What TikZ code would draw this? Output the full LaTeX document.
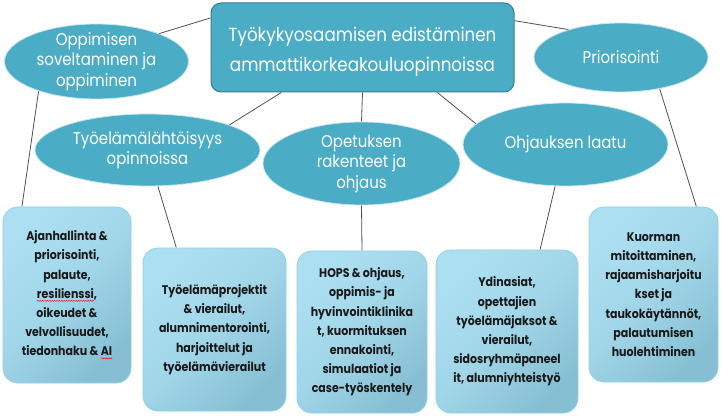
\documentclass[tikz,border=0pt]{standalone}
\usepackage{fontspec}
\setmainfont{Poppins}[FakeStretch=0.88]
\usetikzlibrary{shapes.geometric,backgrounds,decorations.pathmorphing}
\definecolor{aqua}{HTML}{4BACC6}
\definecolor{aquadark}{HTML}{357E93}
\definecolor{boxA}{HTML}{ACDFF1}
\definecolor{boxB}{HTML}{86BFD3}
\definecolor{boxline}{HTML}{8FD2E8}
\definecolor{linkc}{HTML}{505050}
\newsavebox\spellbox
\newcommand\spellmark[1]{\sbox\spellbox{#1}\leavevmode\rlap{\tikz[x=1pt,y=1pt,baseline=0pt]
  \draw[sharp corners,red,line width=0.45pt,decorate,decoration={snake,amplitude=0.5pt,segment length=2.4pt}]
  (0,-2.5) -- (\wd\spellbox,-2.5);}\usebox\spellbox}
\tikzset{
  central/.style={rectangle, rounded corners=10pt, fill=aqua, draw=aquadark, line width=1pt,
    minimum width=303pt, minimum height=89pt, inner sep=0pt},
  ctext/.style={text=white, align=center, font=\fontsize{19}{30}\selectfont},
  ell/.style={ellipse, fill=aqua, draw=white!70!aqua, line width=0.8pt, inner sep=0pt},
  etext/.style={text=white, align=center, font=\fontsize{17}{20.5}\selectfont},
  bx/.style={rectangle, rounded corners=15pt, draw=boxline, line width=0.8pt,
    top color=boxA, bottom color=boxB, middle color=boxA!70!boxB, shading angle=45,
    inner sep=0pt, text=black!90, align=center,
    font=\bfseries\fontsize{12.5}{19.2}\selectfont},
  link/.style={draw=linkc, line width=0.8pt}
}
\begin{document}
\begin{tikzpicture}[x=1pt,y=-1pt]
\useasboundingbox (0,0) rectangle (722,419);
\node[central, label={[ctext,yshift=-4pt]center:{Työkykyosaamisen edistäminen\\ammattikorkeakouluopinnoissa}}] (c) at (362.5,47.5) {};
\node[ell, minimum width=184pt, minimum height=75pt,
  label={[etext]center:{Oppimisen\\soveltaminen ja\\oppiminen}}] (opp) at (96.5,61.5) {};
\node[ell, minimum width=225pt, minimum height=72pt,
  label={[etext]center:{Työelämälähtöisyys\\opinnoissa}}] (tyo) at (147.5,150) {};
\node[ell, minimum width=197pt, minimum height=83pt,
  label={[etext]center:{Opetuksen\\rakenteet ja\\ohjaus}}] (ope) at (361.5,163.5) {};
\node[ell, minimum width=205pt, minimum height=83pt,
  label={[etext]center:{Ohjauksen laatu}}] (ohj) at (565.5,144.5) {};
\node[ell, minimum width=174pt, minimum height=69pt,
  label={[etext]center:{Priorisointi}}] (pri) at (621,57.5) {};
\node[bx, minimum width=128pt, minimum height=176pt] (b1) at (67,295)
  {Ajanhallinta \&\\priorisointi,\\palaute,\\\spellmark{resilienssi},\\oikeudet \&\\velvollisuudet,\\tiedonhaku \& \spellmark{AI}};
\node[bx, minimum width=143pt, minimum height=163pt] (b2) at (214.5,329.5)
  {Työelämäprojektit\\\& vierailut,\\alumnimentorointi,\\harjoittelut ja\\työelämävierailut};
\node[bx, minimum width=130pt, minimum height=162pt] (b3) at (362,332)
  {HOPS \& ohjaus,\\oppimis- ja\\hyvinvointiklinika\\t, kuormituksen\\ennakointi,\\simulaatiot ja\\case-työskentely};
\node[bx, minimum width=142pt, minimum height=163pt] (b4) at (507,331.5)
  {Ydinasiat,\\opettajien\\työelämäjaksot \&\\vierailut,\\sidosryhmäpaneel\\it, alumniyhteistyö};
\node[bx, minimum width=129pt, minimum height=175pt] (b5) at (653.5,294.5)
  {Kuorman\\mitoittaminen,\\rajaamisharjoitu\\kset ja\\taukokäytännöt,\\palautumisen\\huolehtiminen};
\begin{scope}[on background layer]
\draw[link] (c.169.7) -- (opp.24.6);
\draw[link] (c.-151.7) -- (tyo.17.5);
\draw[link] (c.south) -- (ope.north);
\draw[link] (c.-31.1) -- (ohj.167.4);
\draw[link] (c.10.6) -- (pri.152.6);
\draw[link] (opp.207.5) -- (b1.117.1);
\draw[link] (tyo.-74.2) -- (b2.115.9);
\draw[link] (ope.south) -- (b3.north);
\draw[link] (ohj.-104.8) -- (b4.68.8);
\draw[link] (pri.-39.7) -- (b5.64.6);
\end{scope}
\end{tikzpicture}
\end{document}
